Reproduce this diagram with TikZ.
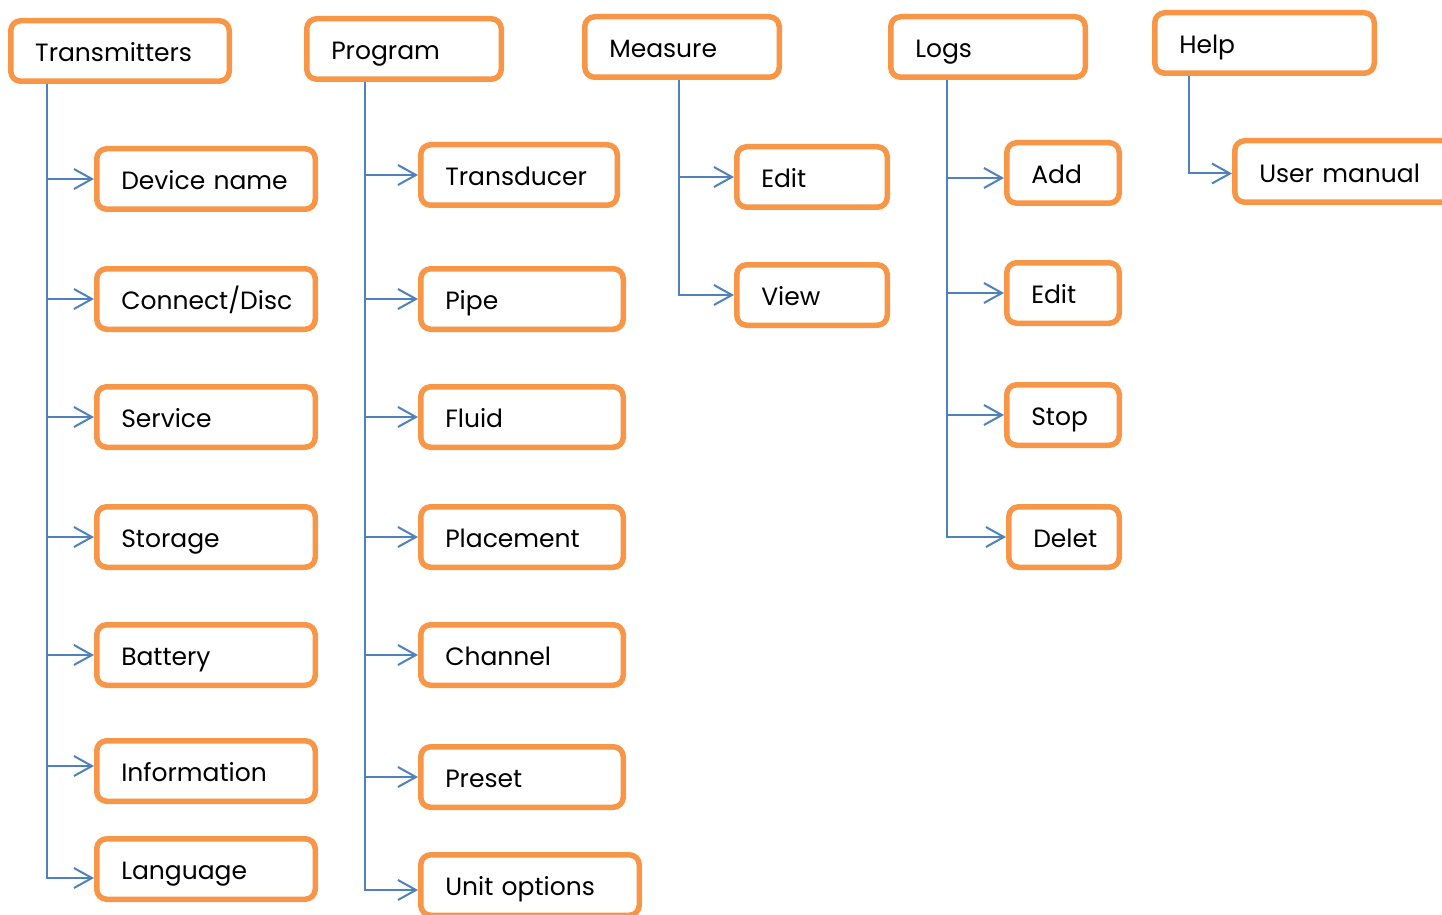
\documentclass[tikz,border=0pt]{standalone}
\usepackage{fontspec}
\setmainfont{Poppins}
\usetikzlibrary{arrows.meta}
\definecolor{boxorange}{HTML}{F79646}
\definecolor{linkblue}{HTML}{4F81BD}
\tikzset{
  menubox/.style={draw=boxorange, line width=2.75pt, rounded corners=5pt, fill=white,
    inner xsep=12.25pt, inner ysep=0pt, align=left,
    font=\fontsize{12.5}{14}\selectfont, text height=10.6pt, text depth=0pt},
  link/.style={draw=linkblue, line width=1pt,
    -{Straight Barb[length=9pt,width=10pt,line width=1pt]}},
}
\newcommand\boxat[6]{%
  \pgfmathsetmacro\bw{(#4-#2-5.5)*0.5}%
  \pgfmathsetmacro\bh{(#5-#3-5.5)*0.5}%
  \pgfmathsetmacro\tw{\bw-24.5}%
  \node[menubox, text width=\tw pt, minimum height=\bh pt] (#1) at ({(#2+#4)/2},{(#3+#5)/2}) {#6};}
\begin{document}
\begin{tikzpicture}[x=0.5pt,y=-0.5pt]
\useasboundingbox (0,0) rectangle (1442,915);
% top level
\boxat{trans}{8}{18}{232}{84}{Transmitters}
\boxat{prog}{304}{16}{504}{82}{Program}
\boxat{meas}{582}{14}{782}{80}{Measure}
\boxat{logs}{888}{14}{1088}{80}{Logs}
\boxat{help}{1152}{10}{1377}{76}{Help}
% transmitters children
\boxat{dev}{94}{146}{318}{212}{Device name}
\boxat{conn}{94}{266}{318}{332}{Connect/Disc}
\boxat{serv}{94}{384}{318}{450}{Service}
\boxat{stor}{94}{504}{318}{570}{Storage}
\boxat{batt}{94}{622}{318}{688}{Battery}
\boxat{info}{94}{738}{318}{804}{Information}
\boxat{lang}{94}{836}{318}{902}{Language}
% program children
\boxat{transd}{418}{142}{620}{208}{Transducer}
\boxat{pipe}{418}{266}{626}{332}{Pipe}
\boxat{fluid}{418}{384}{626}{450}{Fluid}
\boxat{place}{418}{504}{626}{570}{Placement}
\boxat{chan}{418}{622}{626}{688}{Channel}
\boxat{pres}{418}{744}{626}{810}{Preset}
\boxat{unit}{418}{852}{642}{918}{Unit options}
% measure children
\boxat{medit}{734}{144}{890}{210}{Edit}
\boxat{view}{734}{262}{890}{328}{View}
% logs children
\boxat{add}{1004}{140}{1122}{206}{Add}
\boxat{ledit}{1004}{260}{1122}{326}{Edit}
\boxat{stop}{1004}{382}{1122}{448}{Stop}
\boxat{delet}{1006}{504}{1122}{570}{Delet}
% help children
\boxat{manual}{1232}{138}{1456}{205}{User manual}
% connectors
\coordinate (tt) at ([xshift=19.5pt]trans.south west);
\foreach \c in {dev,conn,serv,stor,batt} \draw[link] (tt) |- (\c.west);
\draw[link] (tt) |- ([yshift=2.5pt]info.west);
\draw[link] (tt) |- ([yshift=-4.5pt]lang.west);
\coordinate (pt) at ([xshift=30.5pt]prog.south west);
\foreach \c in {transd,pipe,fluid,place,chan,pres} \draw[link] (pt) |- (\c.west);
\draw[link] (pt) |- ([yshift=-2.5pt]unit.west);
\coordinate (mt) at ([xshift=48.5pt]meas.south west);
\foreach \c in {medit,view} \draw[link] (mt) |- (\c.west);
\coordinate (lt) at ([xshift=29.5pt]logs.south west);
\draw[link] (lt) |- ([yshift=-2.5pt]add.west);
\foreach \c in {ledit,stop,delet} \draw[link] (lt) |- (\c.west);
\coordinate (ht) at ([xshift=18.5pt]help.south west);
\draw[link] (ht) |- ([yshift=-1pt]manual.west);
\end{tikzpicture}
\end{document}
